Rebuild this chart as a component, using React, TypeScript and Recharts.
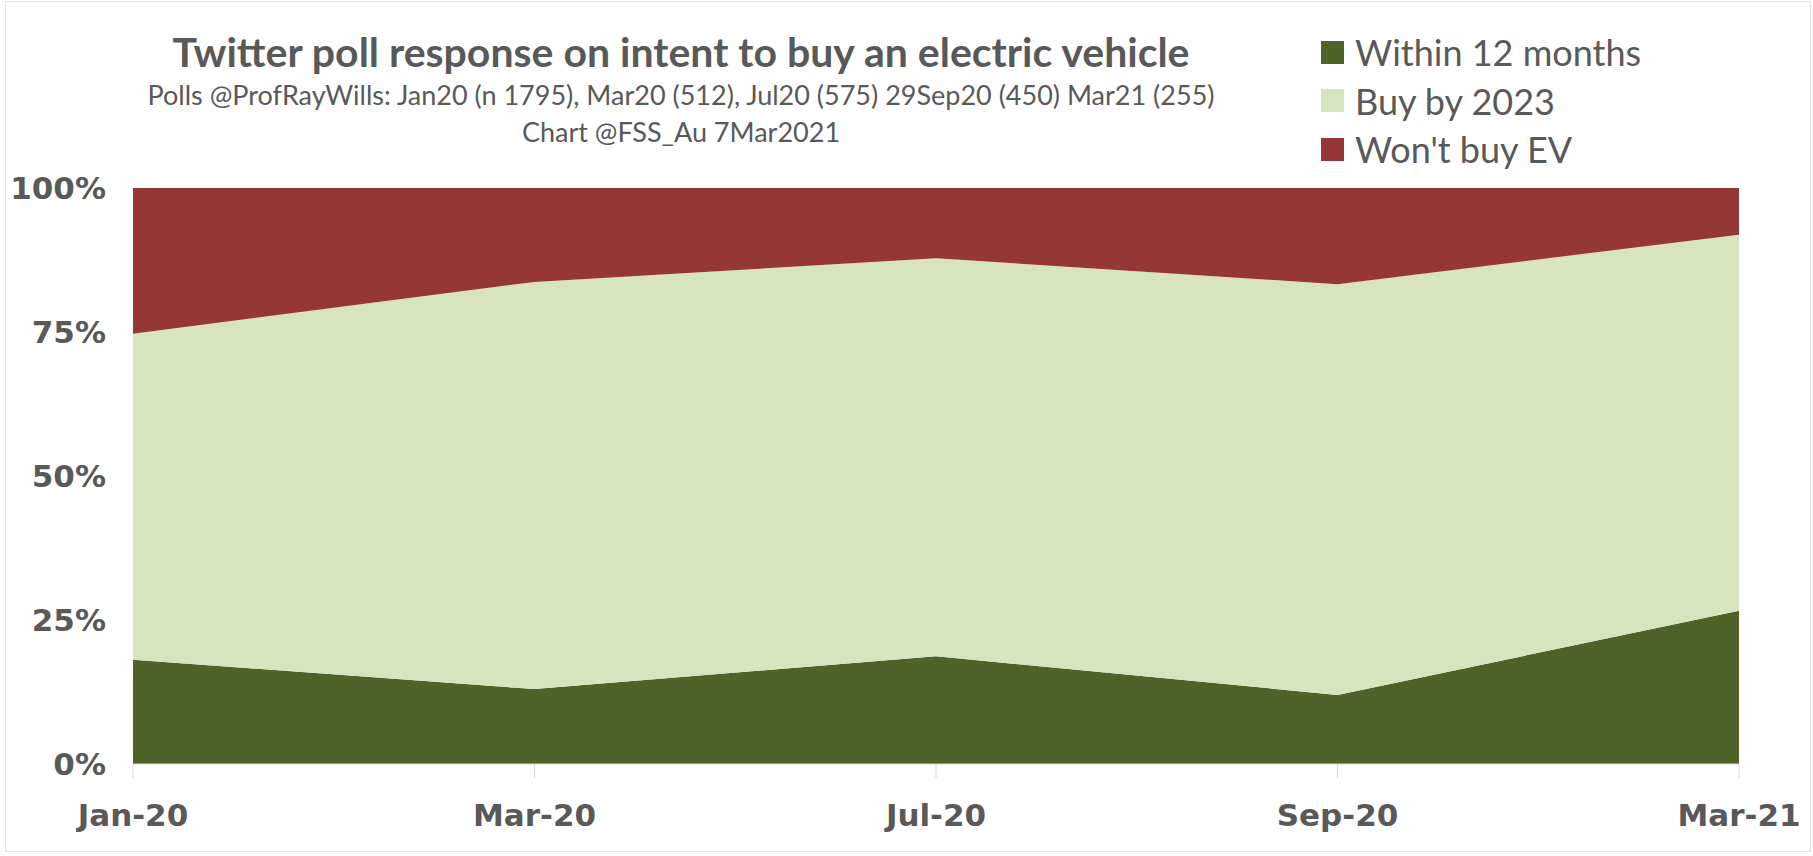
import { AreaChart, Area, XAxis, YAxis, Legend } from "recharts";

const months = ["Jan-20", "Mar-20", "Jul-20", "Sep-20", "Mar-21"];
const within12 = [18.1, 13.0, 18.7, 12.0, 26.6];
const buyBy2023 = [56.6, 70.7, 69.1, 71.3, 65.3];
const wontBuy = [25.3, 16.3, 12.2, 16.7, 8.1];
const yTicks = [0, 25, 50, 75, 100];
const seriesNames = ["Within 12 months", "Buy by 2023", "Won't buy EV"];

const data = months.map((month, i) => ({
  month,
  within: within12[i],
  buy: buyBy2023[i],
  wont: wontBuy[i],
}));

const GREY = "#595959";
const AXIS = "#d9d9d9";

function LegendBox({ payload }: any) {
  const items = [...(payload ?? [])].sort(
    (a: any, b: any) => seriesNames.indexOf(a.value) - seriesNames.indexOf(b.value),
  );
  return (
    <div style={{ fontFamily: "Lato, sans-serif", fontSize: 36, color: GREY, width: 420, whiteSpace: "nowrap" }}>
      {items.map((p: any) => (
        <div key={p.value} style={{ display: "flex", alignItems: "center", height: 48.5 }}>
          <span style={{ width: 23, height: 23, background: p.color, marginRight: 11, flex: "none" }} />
          <span>{p.value}</span>
        </div>
      ))}
    </div>
  );
}

export default function App() {
  return (
    <div
      style={{
        position: "absolute",
        left: 0,
        top: 0,
        width: 1813,
        height: 856,
        background: "#fff",
        overflow: "hidden",
      }}
    >
      <div
        style={{
          position: "absolute",
          left: 5,
          top: 1,
          width: 1806,
          height: 851,
          border: "1px solid #e4e4e4",
          boxSizing: "border-box",
        }}
      />
      <div
        style={{
          position: "absolute",
          left: 81,
          width: 1200,
          top: 28,
          textAlign: "center",
          fontFamily: "Lato, sans-serif",
          color: GREY,
        }}
      >
        <div style={{ fontSize: 41, fontWeight: 700, lineHeight: "48px", whiteSpace: "nowrap" }}>
          Twitter poll response on intent to buy an electric vehicle
        </div>
        <div style={{ fontSize: 27, lineHeight: "37px", whiteSpace: "nowrap" }}>
          Polls @ProfRayWills: Jan20 (n 1795), Mar20 (512), Jul20 (575) 29Sep20 (450) Mar21 (255)
        </div>
        <div style={{ fontSize: 27, lineHeight: "37px", whiteSpace: "nowrap" }}>Chart @FSS_Au 7Mar2021</div>
      </div>
      <AreaChart
        width={1813}
        height={856}
        data={data}
        margin={{ top: 188, right: 74, bottom: 0, left: 33 }}
      >
        <XAxis
          dataKey="month"
          axisLine={{ stroke: AXIS }}
          tickLine={{ stroke: AXIS }}
          tickSize={14}
          tickMargin={26}
          height={92}
          interval={0}
          tick={{ fontFamily: "DejaVu Sans", fontWeight: 700, fontSize: 31, fill: GREY }}
        />
        <YAxis
          domain={[0, 100]}
          ticks={yTicks}
          tickFormatter={(v) => `${v}%`}
          width={100}
          axisLine={false}
          tickLine={false}
          tickMargin={21}
          tick={{ fontFamily: "DejaVu Sans", fontWeight: 700, fontSize: 31, fill: GREY }}
        />
        <Legend
          layout="vertical"
          verticalAlign="top"
          align="right"
          wrapperStyle={{ position: "absolute", left: 1321, top: 28, width: 0, height: 0, overflow: "visible" }}
          content={<LegendBox />}
        />
        <Area
          type="linear"
          dataKey="within"
          name="Within 12 months"
          stackId="1"
          stroke="none"
          fill="#4f6228"
          fillOpacity={1}
          isAnimationActive={false}
        />
        <Area
          type="linear"
          dataKey="buy"
          name="Buy by 2023"
          stackId="1"
          stroke="none"
          fill="#d7e4bd"
          fillOpacity={1}
          isAnimationActive={false}
        />
        <Area
          type="linear"
          dataKey="wont"
          name="Won't buy EV"
          stackId="1"
          stroke="none"
          fill="#953735"
          fillOpacity={1}
          isAnimationActive={false}
        />
      </AreaChart>
    </div>
  );
}
